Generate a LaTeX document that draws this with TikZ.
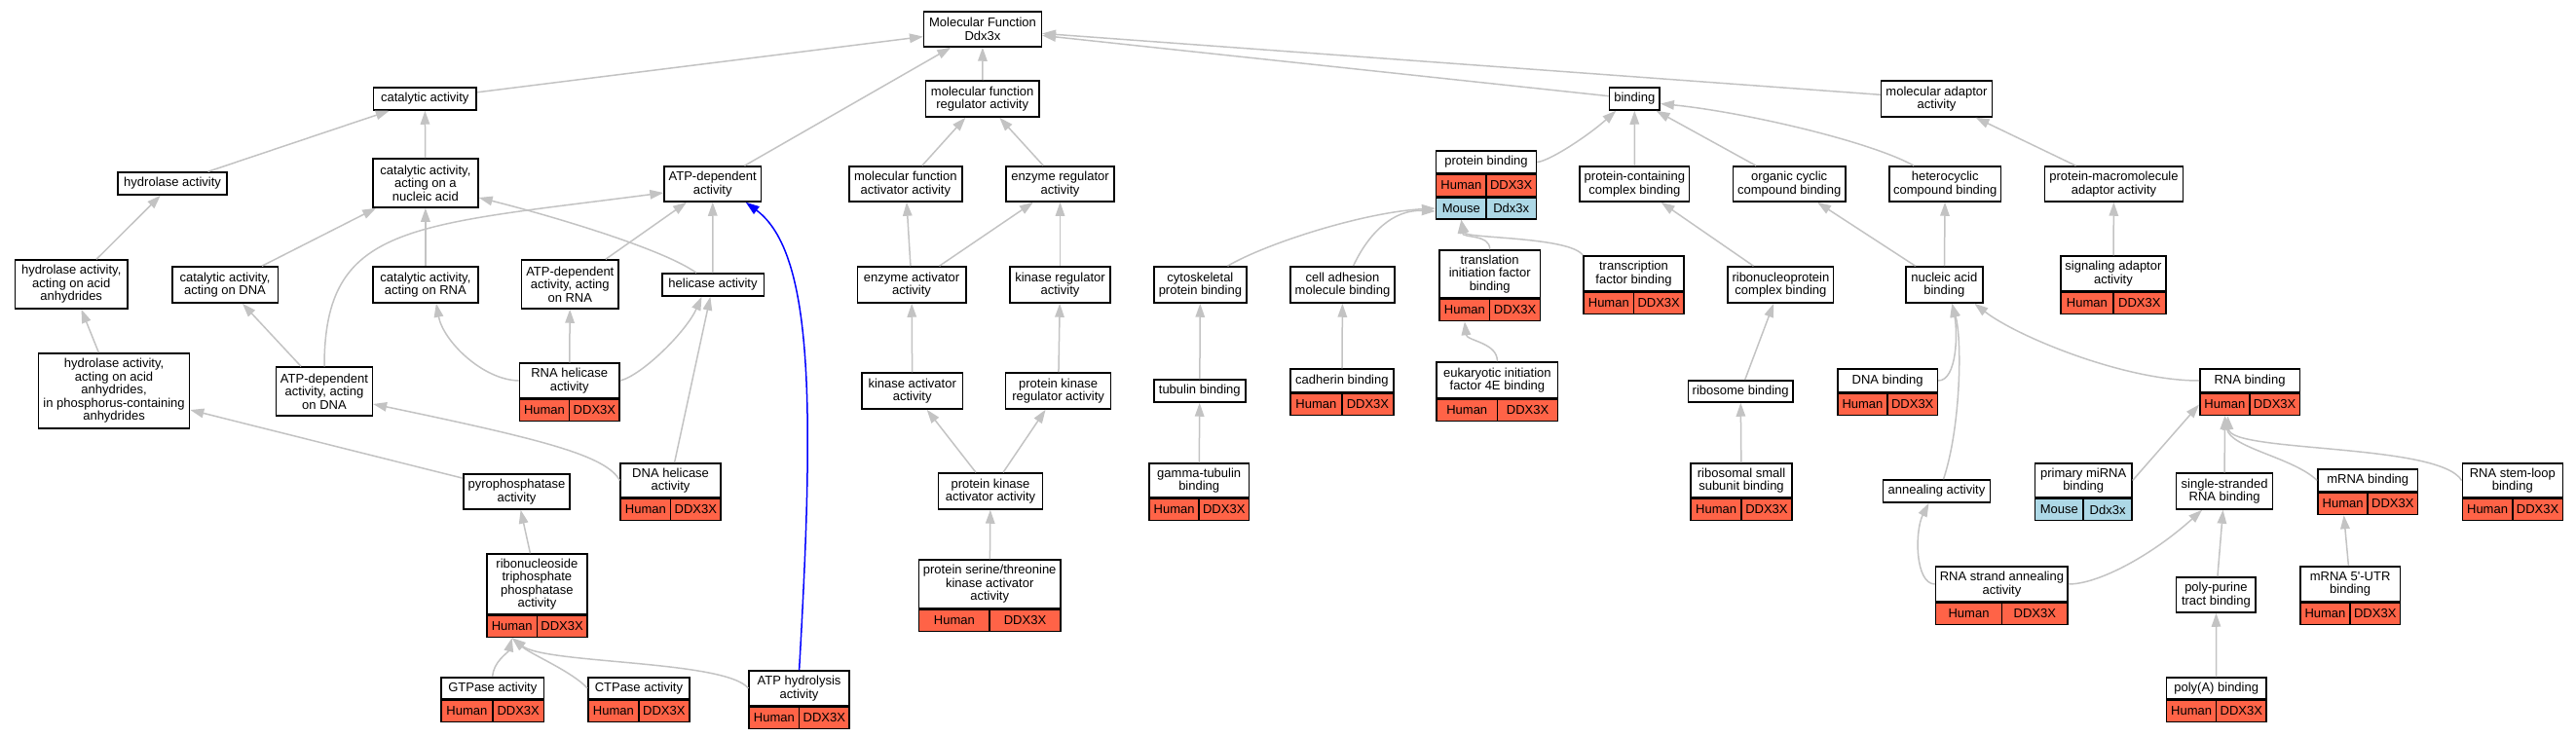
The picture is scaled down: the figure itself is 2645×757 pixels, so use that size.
\documentclass[tikz,border=0pt]{standalone}
\usepackage{fontspec}
\setmainfont{Liberation Sans}
\usepackage{xcolor}
\usepackage{tikz}
\usetikzlibrary{arrows.meta}
\usetikzlibrary{positioning}

\definecolor{humanred}{RGB}{255,99,71}
\definecolor{mouseblue}{RGB}{173,216,230}
\definecolor{edgegray}{RGB}{195,195,195}

\begin{document}
\begin{tikzpicture}[
	x=1pt, y=-1pt,
	font=\fontsize{13pt}{13.5pt}\selectfont
]
\tikzset{
    termnode/.style 2 args = {rectangle, draw=black, line width=1.5pt, fill=white, align=center, inner xsep=4pt, inner ysep=1pt, minimum width=#1pt, minimum height=#2pt},
		cellbase/.style = {rectangle, draw=black, line width=1.5pt, inner sep=0pt, minimum height=22pt, minimum width=#1pt},
		humancell/.style = {cellbase=#1, fill=humanred, anchor=north west},
		genecell/.style = {cellbase=#1, fill=humanred, anchor=north east},
		mousecell/.style = {cellbase=#1, fill=mouseblue, anchor=north west},
		mgenecell/.style = {cellbase=#1, fill=mouseblue, anchor=north east},
		isa/.style = {draw=edgegray, line width=1.5pt, -{Triangle[length=14pt,width=9.5pt]}},
		isablue/.style = {isa, draw=blue}
}
\useasboundingbox (0,0) rectangle (2645,757);

\node[termnode={120.6}{36}] (mf) at (1009,30) {Molecular Function\\Ddx3x};

\node[termnode={105.6}{23}] (cat) at (436.3,101.5) {catalytic activity};
\node[termnode={116.5}{37}] (mfr) at (1008.7,101.5) {molecular function\\regulator activity};
\node[termnode={51.7}{23}] (bind) at (1678.3,101.5) {binding};
\node[termnode={113.9}{37}] (mad) at (1988.5,101.5) {molecular adaptor\\activity};

\node[termnode={112}{23}] (hyd) at (177.1,188.5) {hydrolase activity};
\node[termnode={108}{50}] (can) at (436.9,188) {catalytic activity,\\acting on a\\nucleic acid};
\node[termnode={99.3}{36}] (atp) at (731.7,189) {ATP-dependent\\activity};
\node[termnode={116}{36}] (mfa) at (929.8,189) {molecular function\\activator activity};
\node[termnode={110.8}{36}] (ereg) at (1088.5,189) {enzyme regulator\\activity};
\node[termnode={102.7}{23}] (pb) at (1526,166.5) {protein binding};
\node[humancell=51.35] (pb-h) at (pb.south west) {Human};
\node[genecell=51.35] (pb-g) at (pb.south east) {DDX3X};
\node[mousecell=51.35] (pb-m) at (pb-h.south west) {Mouse};
\node[mgenecell=51.35] (pb-x) at (pb-g.south east) {Ddx3x};
\node[termnode={112.5}{36}] (pcc) at (1678.4,189) {protein-containing\\complex binding};
\node[termnode={115.1}{36}] (occ) at (1837.2,189) {organic cyclic\\compound binding};
\node[termnode={114.5}{36}] (hcc) at (1997.2,189) {heterocyclic\\compound binding};
\node[termnode={141.6}{36}] (pma) at (2170.5,189) {protein-macromolecule\\adaptor activity};

\node[termnode={115.4}{50}] (hyda) at (73.2,292) {hydrolase activity,\\acting on acid\\anhydrides};
\node[termnode={108.5}{37}] (cdna) at (231,292.5) {catalytic activity,\\acting on DNA};
\node[termnode={108}{37}] (crna) at (436.9,292.5) {catalytic activity,\\acting on RNA};
\node[termnode={99.3}{50}] (atprna) at (585.3,292) {ATP-dependent\\activity, acting\\on RNA};
\node[termnode={104.5}{23}] (hel) at (732,292.5) {helicase activity};
\node[termnode={111.4}{37}] (eact) at (936.1,292.5) {enzyme activator\\activity};
\node[termnode={102.8}{37}] (kreg) at (1088.5,292.5) {kinase regulator\\activity};
\node[termnode={95.3}{37}] (cyto) at (1232.4,292.5) {cytoskeletal\\protein binding};
\node[termnode={107.3}{37}] (cam) at (1378.5,292.5) {cell adhesion\\molecule binding};
\node[termnode={103.3}{49}] (tif) at (1529.7,281.5) {translation\\initiation factor\\binding};
\node[humancell=51.65] (tif-h) at (tif.south west) {Human};
\node[genecell=51.65] (tif-g) at (tif.south east) {DDX3X};
\node[termnode={102.8}{36}] (tfb) at (1677.5,281) {transcription\\factor binding};
\node[humancell=51.4] (tfb-h) at (tfb.south west) {Human};
\node[genecell=51.4] (tfb-g) at (tfb.south east) {DDX3X};
\node[termnode={108.5}{37}] (rnp) at (1828.4,292.5) {ribonucleoprotein\\complex binding};
\node[termnode={79}{37}] (nab) at (1996.3,292.5) {nucleic acid\\binding};
\node[termnode={107.9}{36}] (sig) at (2169.9,281) {signaling adaptor\\activity};
\node[humancell=53.95] (sig-h) at (sig.south west) {Human};
\node[genecell=53.95] (sig-g) at (sig.south east) {DDX3X};

\node[termnode={155}{77}] (hpc) at (117.1,401.5) {hydrolase activity,\\acting on acid\\anhydrides,\\in phosphorus-containing\\anhydrides};
\node[termnode={98.7}{50}] (atpdna) at (333,402) {ATP-dependent\\activity, acting\\on DNA};
\node[termnode={102.8}{36}] (rhel) at (584.7,391) {RNA helicase\\activity};
\node[humancell=51.4] (rhel-h) at (rhel.south west) {Human};
\node[genecell=51.4] (rhel-g) at (rhel.south east) {DDX3X};
\node[termnode={103.3}{37}] (kact) at (936.7,401.5) {kinase activator\\activity};
\node[termnode={107.9}{37}] (pkr) at (1086.6,401.5) {protein kinase\\regulator activity};
\node[termnode={94.1}{23}] (tub) at (1231.8,401.5) {tubulin binding};
\node[termnode={106.2}{24}] (cad) at (1377.9,391) {cadherin binding};
\node[humancell=53.1] (cad-h) at (cad.south west) {Human};
\node[genecell=53.1] (cad-g) at (cad.south east) {DDX3X};
\node[termnode={124.6}{37}] (eif) at (1537.4,390.5) {eukaryotic initiation\\factor 4E binding};
\node[humancell=62.3] (eif-h) at (eif.south west) {Human};
\node[genecell=62.3] (eif-g) at (eif.south east) {DDX3X};
\node[termnode={107.9}{22}] (ribo) at (1787.2,402) {ribosome binding};
\node[termnode={102.5}{24}] (dnab) at (1938.1,391) {DNA binding};
\node[humancell=51.25] (dnab-h) at (dnab.south west) {Human};
\node[genecell=51.25] (dnab-g) at (dnab.south east) {DDX3X};
\node[termnode={102.5}{24}] (rnab) at (2310,391) {RNA binding};
\node[humancell=51.25] (rnab-h) at (rnab.south west) {Human};
\node[genecell=51.25] (rnab-g) at (rnab.south east) {DDX3X};

\node[termnode={109}{36}] (pyro) at (530.5,505) {pyrophosphatase\\activity};
\node[termnode={102.8}{35}] (dhel) at (688.6,493.5) {DNA helicase\\activity};
\node[humancell=51.4] (dhel-h) at (dhel.south west) {Human};
\node[genecell=51.4] (dhel-g) at (dhel.south east) {DDX3X};
\node[termnode={106.8}{37}] (pka) at (1017,504.5) {protein kinase\\activator activity};
\node[termnode={102.2}{35}] (gtub) at (1231.2,493.5) {gamma-tubulin\\binding};
\node[humancell=51.1] (gtub-h) at (gtub.south west) {Human};
\node[genecell=51.1] (gtub-g) at (gtub.south east) {DDX3X};
\node[termnode={103.7}{35}] (rss) at (1788,493.5) {ribosomal small\\subunit binding};
\node[humancell=51.85] (rss-h) at (rss.south west) {Human};
\node[genecell=51.85] (rss-g) at (rss.south east) {DDX3X};
\node[termnode={110.3}{23}] (ann) at (1988.5,504.5) {annealing activity};
\node[termnode={99.5}{35}] (pmi) at (2139.2,493.5) {primary miRNA\\binding};
\node[mousecell=49.75] (pmi-m) at (pmi.south west) {Mouse};
\node[mgenecell=49.75] (pmi-x) at (pmi.south east) {Ddx3x};
\node[termnode={98.8}{37}] (ssr) at (2284.1,504.5) {single-stranded\\RNA binding};
\node[termnode={102.5}{23}] (mrna) at (2431.2,493.5) {mRNA binding};
\node[humancell=51.25] (mrna-h) at (mrna.south west) {Human};
\node[genecell=51.25] (mrna-g) at (mrna.south east) {DDX3X};
\node[termnode={103}{35}] (rsl) at (2579.8,493.5) {RNA stem-loop\\binding};
\node[humancell=51.5] (rsl-h) at (rsl.south west) {Human};
\node[genecell=51.5] (rsl-g) at (rsl.south east) {DDX3X};

\node[termnode={102.8}{62}] (rntp) at (551.4,600) {ribonucleoside\\triphosphate\\phosphatase\\activity};
\node[humancell=51.4] (rntp-h) at (rntp.south west) {Human};
\node[genecell=51.4] (rntp-g) at (rntp.south east) {DDX3X};
\node[termnode={145.2}{50}] (pstk) at (1016.2,600) {protein serine/threonine\\kinase activator\\activity};
\node[humancell=72.6] (pstk-h) at (pstk.south west) {Human};
\node[genecell=72.6] (pstk-g) at (pstk.south east) {DDX3X};
\node[termnode={135.5}{36}] (rsa) at (2055.4,600) {RNA strand annealing\\activity};
\node[humancell=67.75] (rsa-h) at (rsa.south west) {Human};
\node[genecell=67.75] (rsa-g) at (rsa.south east) {DDX3X};
\node[termnode={81.4}{36}] (ppt) at (2275.4,611) {poly-purine\\tract binding};
\node[termnode={102.5}{36}] (m5u) at (2413.1,600) {mRNA 5\textquotesingle-UTR\\binding};
\node[humancell=51.25] (m5u-h) at (m5u.south west) {Human};
\node[genecell=51.25] (m5u-g) at (m5u.south east) {DDX3X};

\node[termnode={105.6}{22}] (gtp) at (505.8,707) {GTPase activity};
\node[humancell=52.8] (gtp-h) at (gtp.south west) {Human};
\node[genecell=52.8] (gtp-g) at (gtp.south east) {DDX3X};
\node[termnode={103.9}{22}] (ctp) at (655.9,707) {CTPase activity};
\node[humancell=51.95] (ctp-h) at (ctp.south west) {Human};
\node[genecell=51.95] (ctp-g) at (ctp.south east) {DDX3X};
\node[termnode={102.8}{36}] (atph) at (820.6,707) {ATP hydrolysis\\activity};
\node[humancell=51.4] (atph-h) at (atph.south west) {Human};
\node[genecell=51.4] (atph-g) at (atph.south east) {DDX3X};
\node[termnode={102.5}{22}] (polya) at (2275.7,707) {poly(A) binding};
\node[humancell=51.25] (polya-h) at (polya.south west) {Human};
\node[genecell=51.25] (polya-g) at (polya.south east) {DDX3X};

\draw[isa] (cat) -- (mf);
\draw[isa] (atp) -- (mf);
\draw[isa] (mfr) -- (mf);
\draw[isa] (bind) -- (mf);
\draw[isa] (mad) -- (mf);
\draw[isa] (hyd) -- (cat);
\draw[isa] (can) -- (cat);
\draw[isa] (mfa) -- (mfr);
\draw[isa] (ereg) -- (mfr);
\draw[isa] (pb.east) .. controls (1590,166) and (1630,140) .. ([xshift=-19pt]bind.south);
\draw[isa] (pcc) -- (bind);
\draw[isa] (occ) -- (bind);
\draw[isa] ([xshift=-32pt]hcc.north) .. controls (1920,145) and (1790,115) .. ([yshift=-5pt]bind.east);
\draw[isa] (pma) -- (mad);
\draw[isa] (hyda) -- (hyd);
\draw[isa] (cdna) -- (can);
\draw[isa] (crna) -- (can);
\draw[isa] ([xshift=-17pt]hel.north) .. controls (680,255) and (560,220) .. ([yshift=-15pt]can.east);
\draw[isa] (atpdna.north) .. controls (333,230) and (420,232) .. ([yshift=-9pt]atp.west);
\draw[isa] (atprna) -- (atp);
\draw[isa] (hel) -- (atp);
\draw[isa] (eact) -- (mfa);
\draw[isa] (eact) -- (ereg);
\draw[isa] (kreg) -- (ereg);
\draw[isa] ([xshift=28pt]cyto.north) .. controls (1300,250) and (1400,218) .. (pb-m.west);
\draw[isa] ([xshift=11pt]cam.north) .. controls (1405,240) and (1430,215) .. ([yshift=-3pt]pb-m.west);
\draw[isa] (tif.north) .. controls (1530,240) and (1502,245) .. (pb-m.south);
\draw[isa] (tfb.north west) .. controls (1612,243) and (1505,245) .. (pb-m.south);
\draw[isa] (rnp) -- (pcc);
\draw[isa] (nab) -- (occ);
\draw[isa] (nab) -- (hcc);
\draw[isa] (sig) -- (pma);
\draw[isa] (hpc) -- (hyda);
\draw[isa] (atpdna) -- (cdna);
\draw[isa] (rhel.west) .. controls (495,390) and (455,350) .. ([xshift=11pt]crna.south);
\draw[isa] (rhel) -- (atprna);
\draw[isa] (rhel.east) .. controls (660,385) and (705,340) .. ([xshift=-11.5pt]hel.south);
\draw[isa] (dhel) -- (hel);
\draw[isa] (dhel.west) .. controls (622,468) and (560,452) .. ([yshift=-13pt]atpdna.east);
\draw[isa] (kact) -- (eact);
\draw[isa] (pkr) -- (kreg);
\draw[isa] (tub) -- (cyto);
\draw[isa] (cad) -- (cam);
\draw[isa] (eif.north) .. controls (1538,352) and (1506,350) .. (tif-h.south);
\draw[isa] (ribo) -- (rnp);
\draw[isa] (dnab.east) .. controls (2010,391) and (2010,340) .. ([xshift=8pt]nab.south);
\draw[isa] (rnab.west) .. controls (2180,391) and (2070,345) .. ([xshift=31pt]nab.south);
\draw[isa] ([xshift=7pt]ann.north) .. controls (2013,440) and (2015,350) .. ([xshift=8pt]nab.south);
\draw[isa] (pyro) -- (hpc);
\draw[isa] (pka) -- (kact);
\draw[isa] (pka) -- (pkr);
\draw[isa] (gtub) -- (tub);
\draw[isa] (rss) -- (ribo);
\draw[isa] (pmi.east) -- (rnab-h.west);
\draw[isa] (ssr) -- (rnab-h);
\draw[isa] (mrna.west) .. controls (2355,470) and (2290,460) .. (rnab-h.south);
\draw[isa] (rsl.west) .. controls (2505,455) and (2290,465) .. ([xshift=3pt]rnab-h.south);
\draw[isa] (rntp) -- (pyro);
\draw[isa] (pstk) -- (pka);
\draw[isa] (rsa.west) .. controls (1966,600) and (1966,545) .. ([xshift=-8pt]ann.south);
\draw[isa] (rsa.east) .. controls (2155,600) and (2210,570) .. ([xshift=-23pt]ssr.south);
\draw[isa] (ppt) -- (ssr);
\draw[isa] (m5u) -- (mrna-h);
\draw[isa] (gtp.north) .. controls (506,680) and (522,670) .. (rntp-h.south);
\draw[isa] (ctp.west) .. controls (588,690) and (545,672) .. (rntp-h.south);
\draw[isa] (atph.west) .. controls (745,678) and (560,682) .. (rntp-h.south);
\draw[isablue] (atph.north) .. controls (836,420) and (836,260) .. ([xshift=34pt]atp.south);
\draw[isa] (polya) -- (ppt);
\end{tikzpicture}
\end{document}
